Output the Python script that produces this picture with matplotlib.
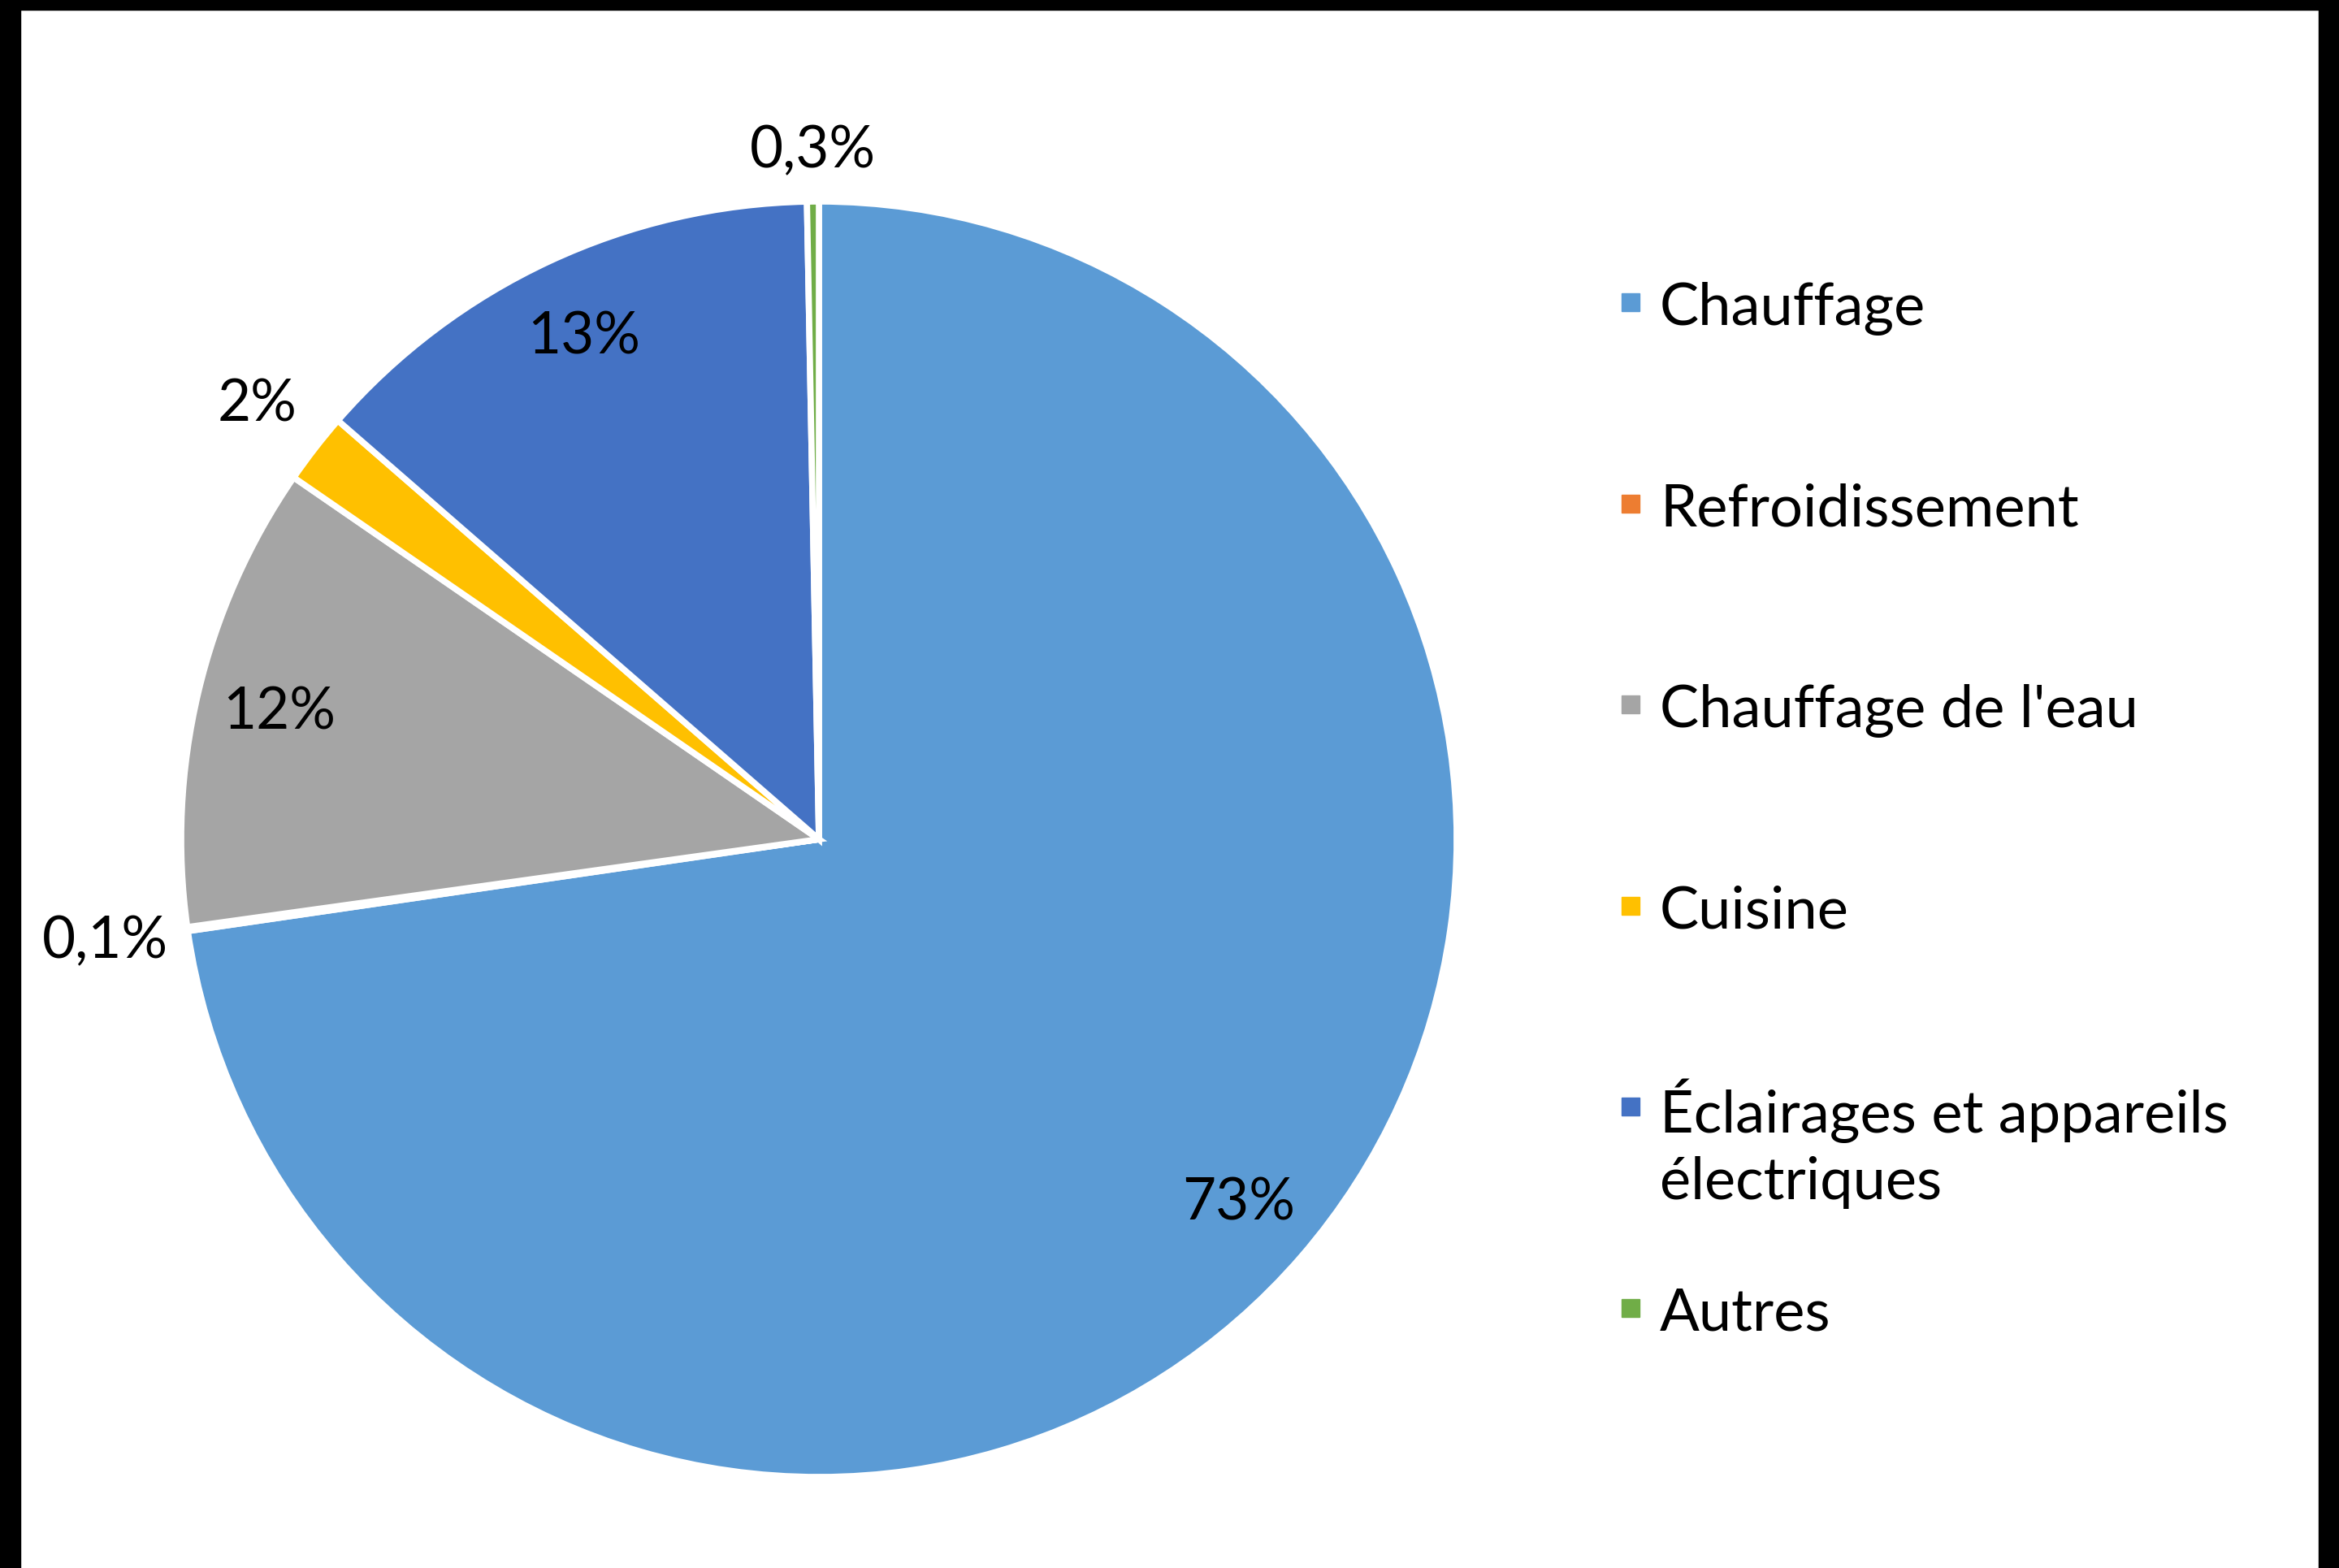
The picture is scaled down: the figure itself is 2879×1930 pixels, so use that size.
import numpy as np
import matplotlib.pyplot as plt
from matplotlib.patches import Rectangle

# Répartition de la consommation d'énergie par usage (%)
categories = ["Chauffage", "Refroidissement", "Chauffage de l'eau", "Cuisine",
              "Éclairages et appareils\nélectriques", "Autres"]
shares = [72.7, 0.1, 11.8, 1.8, 13.3, 0.3]
colors = ["#5B9BD5", "#ED7D31", "#A5A5A5", "#FFC000", "#4472C4", "#70AD47"]

plt.rcParams["font.family"] = ["Lato", "DejaVu Sans"]

W, H = 2879, 1931
fig = plt.figure(figsize=(W / 100, H / 100), dpi=100)
fig.patch.set_facecolor("white")

# pie centre / radius in pixels
cx, cy, R = 1008, 1034, 785
ax = fig.add_axes([0, 0, 1, 1])
wedges, _ = ax.pie(shares, colors=colors, startangle=90, counterclock=False,
                   wedgeprops=dict(edgecolor="white", linewidth=5.5))
ax.set_xlim(-cx / R, (W - cx) / R)
ax.set_ylim(-(H - cy) / R, cy / R)
ax.set_aspect("auto")
ax.axis("off")


def fmt(v):
    if v < 1:
        return f"{v:.1f}%".replace(".", ",")
    return f"{round(v)}%"


# data labels (inside for big slices, outside for small ones)
label_r = [0.87, 1.13, 0.87, 1.115, 0.87, 1.08]
for w, v, r in zip(wedges, shares, label_r):
    ang = np.deg2rad((w.theta1 + w.theta2) / 2)
    ax.text(r * np.cos(ang), r * np.sin(ang), fmt(v), ha="center", va="center",
            fontsize=51, color="black")

# legend on the right (marker next to the first line of each entry)
base0, step, line_gap = 400, 247.6, 86
for i, (name, col) in enumerate(zip(categories, colors)):
    yb = base0 + i * step
    nl = name.count("\n")
    fig.text(2043 / W, 1 - (yb + nl * line_gap) / H, name, fontsize=52,
             va="baseline", ha="left", linespacing=1.31)
    fig.add_artist(Rectangle((1996 / W, 1 - (yb - 16) / H), 22 / W, 22 / H,
                             transform=fig.transFigure, color=col))

# black frame (left, right, top)
for rect in [(0, 0, 25 / W, 1), (1 - 25 / W, 0, 25 / W, 1), (0, 1 - 13 / H, 1, 13 / H)]:
    fig.add_artist(Rectangle(rect[:2], rect[2], rect[3], transform=fig.transFigure,
                             color="black", zorder=10))

fig.savefig("out.png", dpi=100)
